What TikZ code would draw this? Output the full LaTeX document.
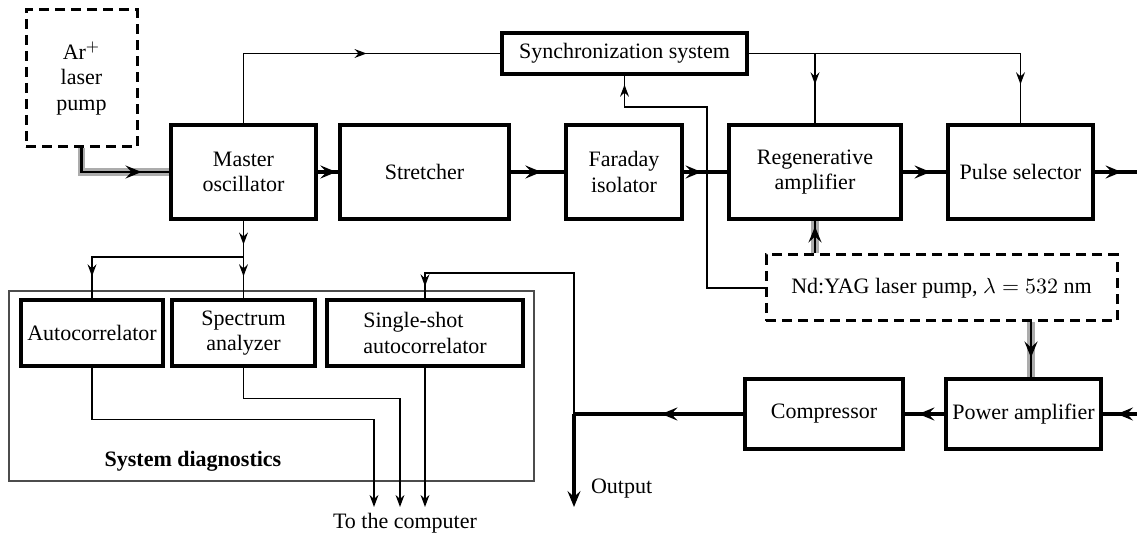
\documentclass[tikz,border=0pt]{standalone}
\usepackage{fontspec}
\setmainfont{Liberation Serif}
\usetikzlibrary{arrows.meta, decorations.markings}

\begin{document}
\begin{tikzpicture}[x=0.5pt, y=-0.5pt,
    font=\fontsize{11}{12.8}\selectfont,
    blk/.style={draw, line width=1.6pt, align=center, inner sep=2pt, minimum height=47pt},
    pumpblk/.style={draw, line width=1.5pt, dash pattern=on 5pt off 3pt, align=center},
    beam/.style={line width=1.6pt},
    sig/.style={line width=0.85pt},
    pumpln/.style={line width=1.4pt, preaction={draw=gray!65, line width=3.8pt}},
    bigtip/.style={postaction={decorate, decoration={markings,
        mark=at position #1 with {\arrow{Stealth[length=8pt,width=6.5pt,inset=3pt]}}}}},
    smalltip/.style={postaction={decorate, decoration={markings,
        mark=at position #1 with {\arrow{Stealth[length=6pt,width=4.4pt,inset=2pt]}}}}},
    sigend/.style={-{Stealth[length=6pt,width=4.4pt,inset=2pt]}}
]
    \useasboundingbox (0,0) rectangle (1137,535);

    % Pump lasers
    \node[pumpblk, minimum width=55.5pt, minimum height=68.5pt] (ar) at (81.5,78.5) {Ar$^{+}$\\laser\\pump};
    \node[pumpblk, minimum width=175.5pt, minimum height=33pt] (nd) at (941.5,288) {Nd:YAG laser pump, $\lambda = 532$~nm};

    % Main chain
    \node[blk, minimum width=72.5pt] (mo) at (243.5,172) {Master\\oscillator};
    \node[blk, minimum width=84.5pt] (st) at (424.5,172) {Stretcher};
    \node[blk, minimum width=58pt] (fi) at (624,172) {Faraday\\isolator};
    \node[blk, minimum width=86pt] (ra) at (815,172) {Regenerative\\amplifier};
    \node[blk, minimum width=72.5pt] (ps) at (1020.5,172) {Pulse selector};
    \node[blk, minimum width=122.5pt, minimum height=20.5pt] (sync) at (624.5,53.5) {Synchronization system};
    \node[blk, minimum width=77.5pt, minimum height=35pt] (pa) at (1023.5,414) {Power amplifier};
    \node[blk, minimum width=79pt, minimum height=35pt] (co) at (824,414) {Compressor};

    % Diagnostics
    \node[draw=black!70, line width=0.6pt, minimum width=262.5pt, minimum height=95pt] (diag) at (271.5,386) {};
    \node[blk, minimum width=71pt, minimum height=33pt] (ac) at (92,333) {Autocorrelator};
    \node[blk, minimum width=71.5pt, minimum height=33pt] (sa) at (243.5,333) {Spectrum\\analyzer};
    \node[blk, minimum width=98pt, minimum height=33pt, align=left] (ss) at (425,333) {Single-shot\\autocorrelator};
    \node[font=\fontsize{11}{12.8}\selectfont\bfseries] (dl) at (193,461) {System diagnostics};

    % Labels
    \node (pc) at (405,523) {To the computer};
    \node[anchor=west] (ol) at (584,489) {Output};

    % Points
    \coordinate (rout) at (1137,172);
    \coordinate (rin) at (1137,414);
    \coordinate (jn) at (574,414);
    \coordinate (oend) at (574,507);
    \coordinate (tap) at (574,273);
    \coordinate (split) at (243.5,257);
    \coordinate (bend) at (707,107);
    \coordinate (c1) at (374,507);
    \coordinate (c2) at (400,507);
    \coordinate (c3) at (425,507);
    \path (pa.north) ++(7.5,0) coordinate (pin);

    % Pump beams
    \draw[pumpln, bigtip=41.75pt] (ar.south) |- (mo.west);
    \draw[pumpln, bigtip=13.5pt] (nd.north -| ra.south) -- (ra.south);
    \draw[pumpln, bigtip=17.5pt] (nd.south -| pin) -- (pin);

    % Laser beam
    \draw[beam, bigtip=-1pt] (mo) -- (st);
    \draw[beam, bigtip=-11.5pt] (st) -- (fi);
    \draw[beam, bigtip=9pt] (fi) -- (ra);
    \draw[beam, bigtip=14pt] (ra) -- (ps);
    \draw[beam, bigtip=13.5pt] (ps) -- (rout);
    \draw[beam, bigtip=10pt] (rin) -- (pa);
    \draw[beam, bigtip=13pt] (pa) -- (co);
    \draw[beam, bigtip=41pt] (co) -- (jn);
    \draw[beam, -{Stealth[length=8pt,width=6.5pt,inset=3pt]}] (jn) -- (oend);

    % Synchronization
    \draw[sig, smalltip=96.5pt] (mo.north) |- (sync.west);
    \draw[sig, smalltip=-19.5pt] (sync.east) -| (ps.north);
    \draw[sig, smalltip=-19.5pt] (sync.east -| ra.north) -- (ra.north);
    \draw[sig, smalltip=-4.5pt] (nd.west) -| (bend) -| (sync.south);

    % Diagnostic taps
    \draw[sig, smalltip=12pt, smalltip=-11pt] (mo.south) -- (sa.north);
    \draw[sig, smalltip=-11pt] (split) -| (ac.north);
    \draw[sig, smalltip=-6pt] (jn) -- (tap) -| (ss.north);

    % To the computer
    \draw[sig, sigend] (ac.south) -- ++(0,52) -| (c1);
    \draw[sig, sigend] (sa.south) -- ++(0,31) -| (c2);
    \draw[sig, sigend] (ss.south) -- (c3);
\end{tikzpicture}
\end{document}
